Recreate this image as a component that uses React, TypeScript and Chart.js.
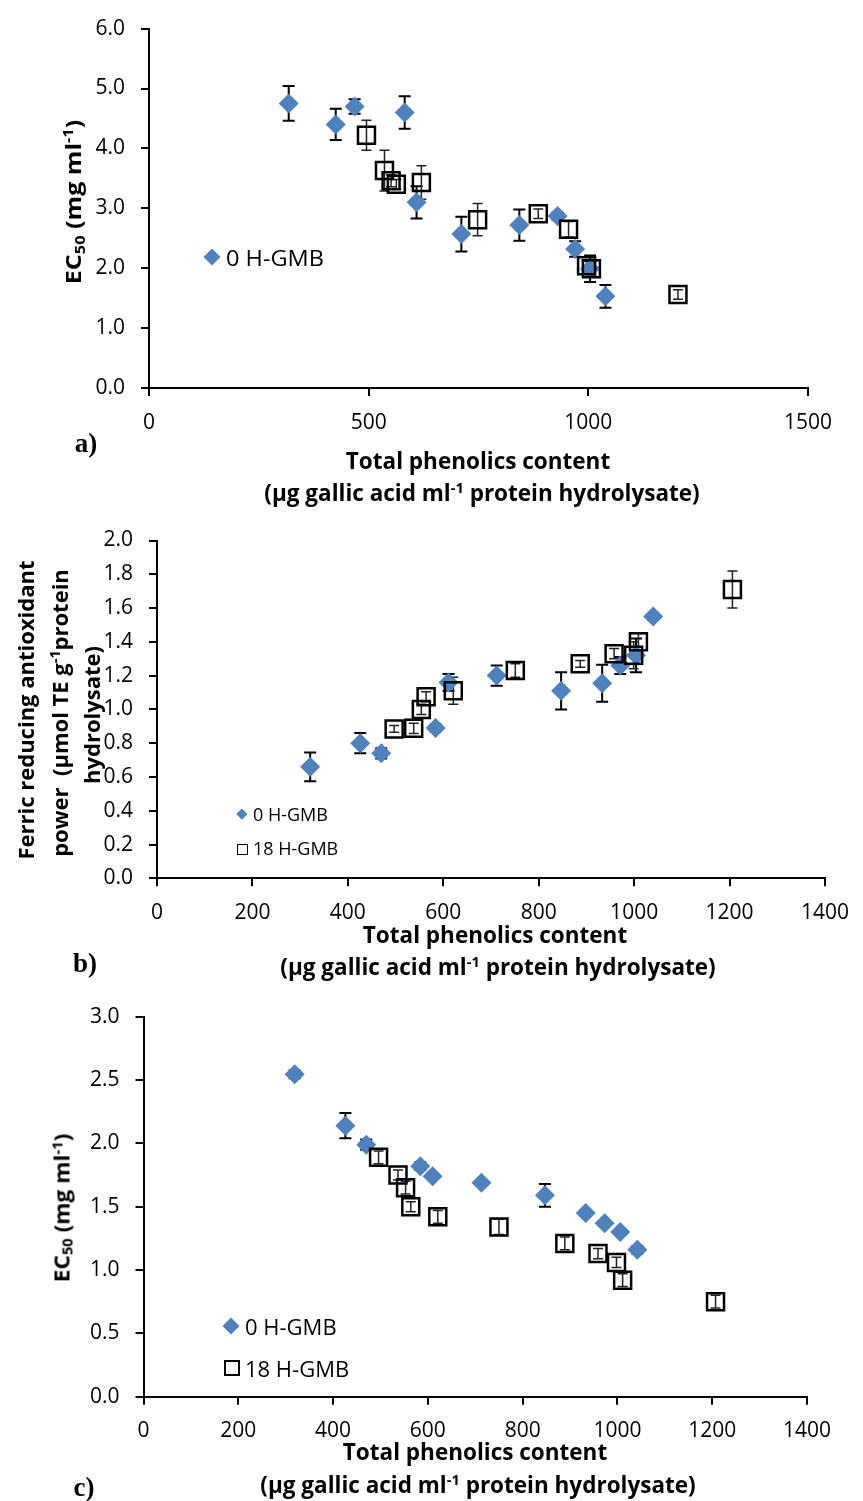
import React, { useEffect, useRef } from "react";
import { Chart, registerables } from "chart.js";

Chart.register(...registerables);

const PAGE_W = 863;
const PAGE_H = 1501;
const BLUE = "#4F81BD";
const SANS = "'Open Sans', 'Noto Sans', sans-serif";
const SERIF = "'Liberation Serif', 'DejaVu Serif', serif";

// ---------- Panel a) EC50 vs total phenolics ----------
const aX0 = [318, 425, 468, 582, 609, 711, 843, 930, 970, 1004, 1039];
const aY0 = [4.75, 4.4, 4.7, 4.6, 3.1, 2.57, 2.72, 2.87, 2.32, 1.99, 1.53];
const aE0 = [0.29, 0.26, 0.12, 0.27, 0.27, 0.29, 0.26, 0.06, 0.13, 0.22, 0.19];
const aX18 = [495, 536, 551, 563, 620, 748, 886, 955, 996, 1007, 1204];
const aY18 = [4.22, 3.63, 3.46, 3.4, 3.43, 2.81, 2.91, 2.65, 2.04, 1.99, 1.56];
const aE18 = [0.25, 0.34, 0.1, 0.08, 0.28, 0.27, 0.08, 0.13, 0.08, 0.12, 0.08];

// ---------- Panel b) FRAP vs total phenolics ----------
const bX0 = [321, 426, 470, 584, 611, 712, 847, 933, 971, 1004, 1040];
const bY0 = [0.66, 0.8, 0.74, 0.89, 1.16, 1.2, 1.11, 1.155, 1.26, 1.32, 1.55];
const bE0 = [0.085, 0.06, 0.03, 0.02, 0.05, 0.06, 0.11, 0.11, 0.05, 0.1, 0.02];
const bX18 = [497, 538, 554, 564, 621, 751, 887, 958, 999, 1009, 1206];
const bY18 = [0.884, 0.888, 1.0, 1.075, 1.11, 1.23, 1.27, 1.33, 1.32, 1.4, 1.71];
const bE18 = [0.02, 0.03, 0.03, 0.03, 0.08, 0.04, 0.02, 0.03, 0.08, 0.05, 0.11];

// ---------- Panel c) EC50 vs total phenolics ----------
const cX0 = [319, 426, 470, 584, 610, 713, 847, 933, 973, 1006, 1042];
const cY0 = [2.545, 2.14, 1.99, 1.82, 1.74, 1.69, 1.59, 1.45, 1.37, 1.3, 1.16];
const cE0 = [0.03, 0.1, 0.04, 0.03, 0.02, 0.02, 0.09, 0.02, 0.02, 0.02, 0.03];
const cX18 = [496, 537, 553, 564, 621, 750, 889, 959, 998, 1011, 1207];
const cY18 = [1.89, 1.75, 1.65, 1.5, 1.42, 1.34, 1.21, 1.13, 1.06, 0.92, 0.75];
const cE18 = [0.05, 0.04, 0.05, 0.04, 0.05, 0.06, 0.05, 0.04, 0.04, 0.05, 0.05];

type Area = { left: number; right: number; top: number; bottom: number };
type Panel = {
  x0: number[]; y0: number[]; e0: number[];
  x18: number[]; y18: number[]; e18: number[];
  xMax: number; xStep: number; yMax: number; yStep: number;
  area: Area;
};

const panels: Panel[] = [
  { x0: aX0, y0: aY0, e0: aE0, x18: aX18, y18: aY18, e18: aE18, xMax: 1500, xStep: 500, yMax: 6, yStep: 1,
    area: { left: 149, right: 808, top: 27, bottom: 388 } },
  { x0: bX0, y0: bY0, e0: bE0, x18: bX18, y18: bY18, e18: bE18, xMax: 1400, xStep: 200, yMax: 2, yStep: 0.2,
    area: { left: 157, right: 832.5, top: 540.5, bottom: 878.3 } },
  { x0: cX0, y0: cY0, e0: cE0, x18: cX18, y18: cY18, e18: cE18, xMax: 1400, xStep: 200, yMax: 3, yStep: 0.5,
    area: { left: 143.5, right: 807, top: 1016.7, bottom: 1396.7 } },
];

function PanelChart({ p }: { p: Panel }) {
  const ref = useRef<HTMLCanvasElement>(null);
  useEffect(() => {
    const canvas = ref.current;
    if (!canvas) return;
    const errSets = [
      { xs: p.x0, ys: p.y0, es: p.e0, color: "#000", lw: 2, cap: 6 },
      { xs: p.x18, ys: p.y18, es: p.e18, color: "#222", lw: 1.5, cap: 5 },
    ];
    const errPlugin = {
      id: "errbars",
      beforeDatasetsDraw(chart: any) {
        const ctx = chart.ctx;
        const sx = chart.scales.x;
        const sy = chart.scales.y;
        errSets.forEach((s) => {
          ctx.save();
          ctx.strokeStyle = s.color;
          ctx.lineWidth = s.lw;
          s.xs.forEach((xv, i) => {
            const px = sx.getPixelForValue(xv);
            const t = sy.getPixelForValue(s.ys[i] + s.es[i]);
            const b = sy.getPixelForValue(s.ys[i] - s.es[i]);
            ctx.beginPath();
            ctx.moveTo(px, t);
            ctx.lineTo(px, b);
            ctx.moveTo(px - s.cap, t);
            ctx.lineTo(px + s.cap, t);
            ctx.moveTo(px - s.cap, b);
            ctx.lineTo(px + s.cap, b);
            ctx.stroke();
          });
          ctx.restore();
        });
      },
    };
    const tickFont = { family: SANS, size: 21 };
    const chart = new Chart(canvas, {
      type: "scatter",
      data: {
        datasets: [
          {
            label: "0 H-GMB",
            data: p.x0.map((x, i) => ({ x, y: p.y0[i] })),
            pointStyle: "rectRot",
            pointRadius: 10,
            pointHoverRadius: 10,
            pointBackgroundColor: BLUE,
            pointBorderWidth: 0,
            order: 2,
          },
          {
            label: "18 H-GMB",
            data: p.x18.map((x, i) => ({ x, y: p.y18[i] })),
            pointStyle: "rect",
            pointRadius: 12,
            pointHoverRadius: 12,
            pointBackgroundColor: "rgba(0,0,0,0)",
            pointBorderColor: "#000",
            pointBorderWidth: 2.5,
            order: 1,
          },
        ],
      },
      options: {
        responsive: false,
        animation: false,
        devicePixelRatio: 1,
        events: [],
        layout: { padding: { left: 0, top: p.area.top, right: PAGE_W - p.area.right, bottom: 0 } },
        plugins: { legend: { display: false }, tooltip: { enabled: false } },
        scales: {
          x: {
            type: "linear",
            min: 0,
            max: p.xMax,
            afterFit: (s: any) => { s.height = PAGE_H - p.area.bottom; },
            ticks: { stepSize: p.xStep, color: "#000", font: tickFont, padding: 14, maxRotation: 0, autoSkip: false,
              callback: (v: any) => String(v) },
            grid: { drawOnChartArea: false, drawTicks: true, tickLength: 8, color: "#000", lineWidth: 2 },
            border: { display: true, color: "#000", width: 2 },
          },
          y: {
            type: "linear",
            min: 0,
            max: p.yMax,
            afterFit: (s: any) => { s.width = p.area.left; },
            ticks: { stepSize: p.yStep, color: "#000", font: tickFont, padding: 16, autoSkip: false,
              callback: (v: any) => Number(v).toFixed(1) },
            grid: { drawOnChartArea: false, drawTicks: true, tickLength: 8, color: "#000", lineWidth: 2 },
            border: { display: true, color: "#000", width: 2 },
          },
        },
      } as any,
      plugins: [errPlugin],
    });
    return () => chart.destroy();
  }, [p]);
  return (
    <canvas
      ref={ref}
      width={PAGE_W}
      height={PAGE_H}
      style={{ position: "absolute", left: 0, top: 0, width: PAGE_W, height: PAGE_H, display: "block" }}
    />
  );
}

function Txt(props: {
  x: number; y: number; size: number; bold?: boolean; serif?: boolean;
  align?: "center" | "left"; rotate?: number; sx?: number; children: React.ReactNode;
}) {
  const { x, y, size, bold, serif, align = "center", rotate = 0, sx = 1, children } = props;
  const tx = align === "center" ? "-50%" : "0";
  return (
    <div
      style={{
        position: "absolute",
        left: x,
        top: y,
        whiteSpace: "nowrap",
        lineHeight: 1,
        fontSize: size,
        fontWeight: bold ? 700 : 400,
        fontFamily: serif ? SERIF : SANS,
        color: "#000",
        transformOrigin: align === "center" ? "center center" : "left center",
        transform: `translate(${tx}, -50%) rotate(${rotate}deg) scaleX(${sx})`,
      }}
    >
      {children}
    </div>
  );
}

const Sub = ({ children }: { children: React.ReactNode }) => (
  <span style={{ fontSize: "0.65em", verticalAlign: "-0.25em", lineHeight: 0 }}>{children}</span>
);
const Sup = ({ children }: { children: React.ReactNode }) => (
  <span style={{ fontSize: "0.65em", verticalAlign: "0.55em", lineHeight: 0 }}>{children}</span>
);

function Diamond({ cx, cy, d }: { cx: number; cy: number; d: number }) {
  const s = d / Math.SQRT2;
  return (
    <div
      style={{
        position: "absolute", left: cx - s / 2, top: cy - s / 2, width: s, height: s,
        background: BLUE, transform: "rotate(45deg)",
      }}
    />
  );
}

function Sq({ cx, cy, s, bw }: { cx: number; cy: number; s: number; bw: number }) {
  return (
    <div
      style={{
        position: "absolute", left: cx - s / 2, top: cy - s / 2, width: s, height: s,
        boxSizing: "border-box", border: `${bw}px solid #000`,
      }}
    />
  );
}

const XT1 = "Total phenolics content";
const XT2 = (
  <>
    (µg gallic acid ml<Sup>-1</Sup> protein hydrolysate)
  </>
);
const EC = (
  <>
    EC<Sub>50</Sub> (mg ml<Sup>-1</Sup>)
  </>
);

export default function App() {
  return (
    <div style={{ position: "absolute", left: 0, top: 0, width: PAGE_W, height: PAGE_H, background: "#fff", overflow: "hidden" }}>
      {panels.map((p, i) => (
        <PanelChart key={i} p={p} />
      ))}

      {/* Panel a texts */}
      <Txt x={72} y={202} size={22} bold rotate={-90} sx={1.14}>{EC}</Txt>
      <Txt x={478} y={461} size={22.5} bold>{XT1}</Txt>
      <Txt x={482} y={493} size={22.5} bold>{XT2}</Txt>
      <Txt x={86} y={443} size={27} bold serif>a)</Txt>
      <Diamond cx={212} cy={257} d={17} />
      <Txt x={226} y={257} size={22} align="left" sx={1.07}>0 H-GMB</Txt>

      {/* Panel b texts */}
      <Txt x={25} y={710} size={22} bold rotate={-90}>Ferric reducing antioxidant</Txt>
      <Txt x={59} y={713} size={22} bold rotate={-90}>
        power&nbsp;&nbsp;(µmol TE g<Sup>-1</Sup>protein
      </Txt>
      <Txt x={91} y={715} size={22} bold rotate={-90}>hydrolysate)</Txt>
      <Txt x={495} y={935} size={22.5} bold>{XT1}</Txt>
      <Txt x={498} y={967} size={22.5} bold>{XT2}</Txt>
      <Txt x={85} y={963} size={27} bold serif>b)</Txt>
      <Diamond cx={242} cy={814} d={11} />
      <Txt x={253} y={814} size={18} align="left">0 H-GMB</Txt>
      <Sq cx={242} cy={849} s={11} bw={1.6} />
      <Txt x={253} y={848} size={18} align="left">18 H-GMB</Txt>

      {/* Panel c texts */}
      <Txt x={62} y={1208} size={21} bold rotate={-90} sx={1.08}>{EC}</Txt>
      <Txt x={475} y={1452} size={22.5} bold>{XT1}</Txt>
      <Txt x={478} y={1485} size={22.5} bold>{XT2}</Txt>
      <Txt x={84} y={1487} size={27} bold serif>c)</Txt>
      <Diamond cx={231} cy={1326} d={17} />
      <Txt x={245} y={1326} size={22} align="left">0 H-GMB</Txt>
      <Sq cx={232} cy={1368} s={16} bw={2} />
      <Txt x={245} y={1368} size={22} align="left">18 H-GMB</Txt>
    </div>
  );
}
